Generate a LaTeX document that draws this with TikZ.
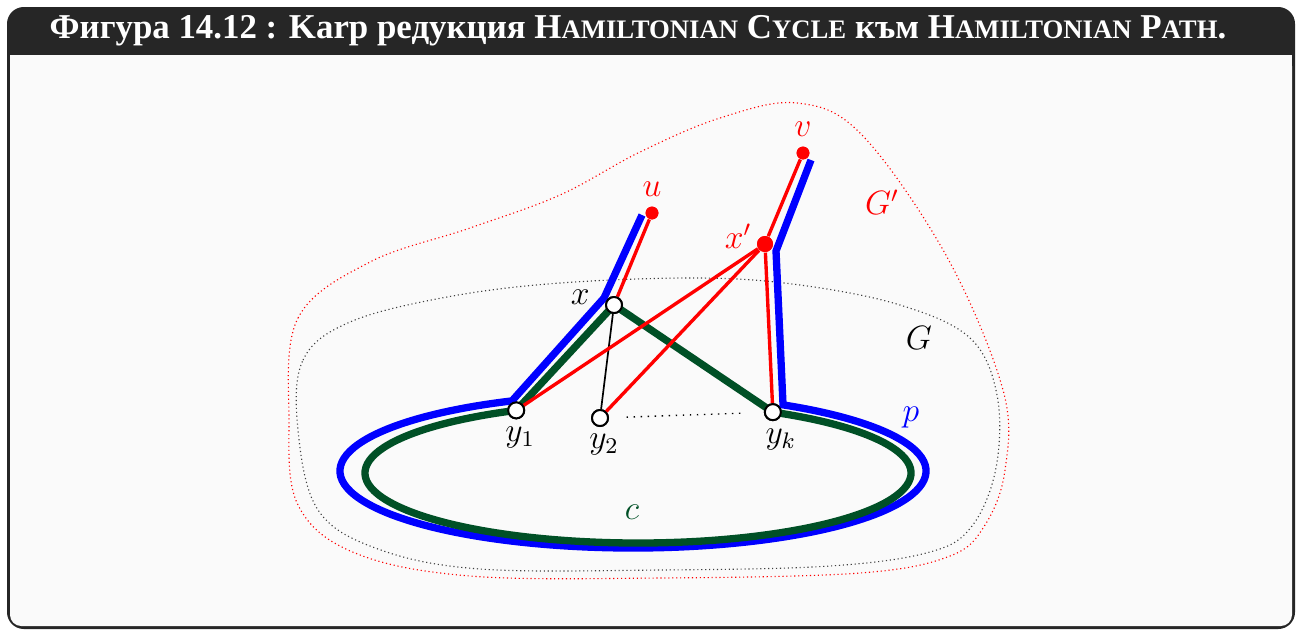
\documentclass[tikz,border=0pt]{standalone}
\usepackage[no-math]{fontspec}
\usetikzlibrary{calc,positioning}

\newfontfamily\titlefont{Liberation Serif}
\newcommand{\smc}[2]{#1{\fontsize{9.5}{11}\selectfont #2}}

\definecolor{cgreen}{RGB}{0,80,38}
\definecolor{framedark}{RGB}{38,38,38}
\definecolor{bodyback}{RGB}{250,250,250}

\begin{document}
\begin{tikzpicture}[x=0.125mm, y=-0.125mm,
    vtx/.style={circle, draw=black, fill=white, line width=0.7pt, inner sep=0pt, minimum size=2mm},
    rdot/.style={circle, fill=red, inner sep=0pt, minimum size=1.6mm},
    lbl/.style={font=\large, inner sep=1pt},
    pathp/.style={blue, line width=2.6pt},
    pathc/.style={cgreen, line width=2.6pt, line join=round},
    redge/.style={red, line width=1.2pt},
    bedge/.style={black, line width=0.6pt}
]

% frame and title
\useasboundingbox (0,0) rectangle (1298,629);
\fill[framedark, rounded corners=6] (7,7) rectangle (1295,629);
\fill[bodyback, rounded corners=4] (10,55) rectangle (1292,626);
\fill[bodyback] (10,55) rectangle (1292,70);
\node[text=white, font=\titlefont\fontsize{12.4}{15}\selectfont\bfseries] (title) at (638,31)
  {Фигура 14.12 : Karp редукция \smc{H}{AMILTONIAN} \smc{C}{YCLE} към \smc{H}{AMILTONIAN} \smc{P}{ATH}.};

% the two graphs
\draw[red, line width=0.4pt, densely dotted] plot[smooth cycle, tension=0.6] coordinates {
  (289,420) (298,318) (370,262) (470,228) (560,195) (640,152) (720,118) (797,103)
  (862,135) (947,257) (1003,390) (1005,470) (985,525) (950,556) (860,573) (660,578)
  (470,576) (355,553) (298,505)};
\draw[black!75, line width=0.4pt, densely dotted] plot[smooth cycle, tension=0.6] coordinates {
  (298,430) (303,360) (350,322) (447,297) (560,283) (700,278) (800,285) (900,305)
  (970,338) (997,395) (996,468) (972,526) (930,552) (830,566) (660,570) (480,569)
  (378,549) (318,510)};

% centres of the two ellipses
\coordinate (cc) at (638,473);
\coordinate (cp) at (633,471);

% vertices
\node[vtx] (x) at (614,305) {};
\node[vtx] (y1) at ($(cc)+(-116.5:273 and 70)$) {};
\node[vtx] (y2) at (600,418) {};
\node[vtx] (yk) at ($(cc)+(-60.4:273 and 70)$) {};
\node[rdot] (u) at (652,213) {};
\node[rdot] (v) at (803,153) {};
\node[rdot, minimum size=2mm] (xp) at (765,244) {};

% Hamiltonian path p
\coordinate (bu) at (642,215);
\coordinate (bx) at (604,298);
\coordinate (bt) at (776,251);
\coordinate (bv) at (811,160);
\draw[pathp] (bu) -- (bx) -- ($(cp)+(-114.4:293 and 77)$)
  arc[start angle=-114.4, end angle=-419.2, x radius=293, y radius=77] -- (bt) -- (bv);

% Hamiltonian cycle c
\draw[pathc] (y1.center) arc[start angle=-116.5, end angle=-420.4, x radius=273, y radius=70]
  -- (x.center) -- cycle;

% edges
\draw[bedge] (x) -- (y2);
\draw[black, line width=0.5pt, dotted, shorten <=2.2mm, shorten >=2.8mm] (y2) -- (yk);
\draw[redge] (u) -- (x);
\draw[redge] (v) -- (xp);
\draw[redge] (xp) -- (y1);
\draw[redge] (xp) -- (y2);
\draw[redge] (xp) -- (yk);

% redraw vertices on top
\foreach \n in {x,y1,y2,yk} \node[vtx] at (\n) {};
\foreach \n in {u,v} \node[rdot] at (\n) {};
\node[rdot, minimum size=2mm] at (xp) {};

% labels
\node[lbl, red, above=0.8mm of u] (lu) {$u$};
\node[lbl, red, above=0.8mm of v] (lv) {$v$};
\node[lbl, red, left=0.2mm of xp, yshift=1mm] (lxp) {$x'$};
\node[lbl, left=1.5mm of x, yshift=1mm] (lx) {$x$};
\node[lbl, below=0.5mm of y1, xshift=0.5mm] (ly1) {$y_1$};
\node[lbl, below=0.5mm of y2, xshift=0.5mm] (ly2) {$y_2$};
\node[lbl, below=0.5mm of yk, xshift=1mm] (lyk) {$y_k$};
\node[lbl, red] (gp) at (882,202) {$G'$};
\node[lbl] (g) at (919,338) {$G$};
\node[lbl, blue] (p) at (911,418) {$p$};
\node[lbl, cgreen] (c) at (632,512) {$c$};

\end{tikzpicture}
\end{document}
